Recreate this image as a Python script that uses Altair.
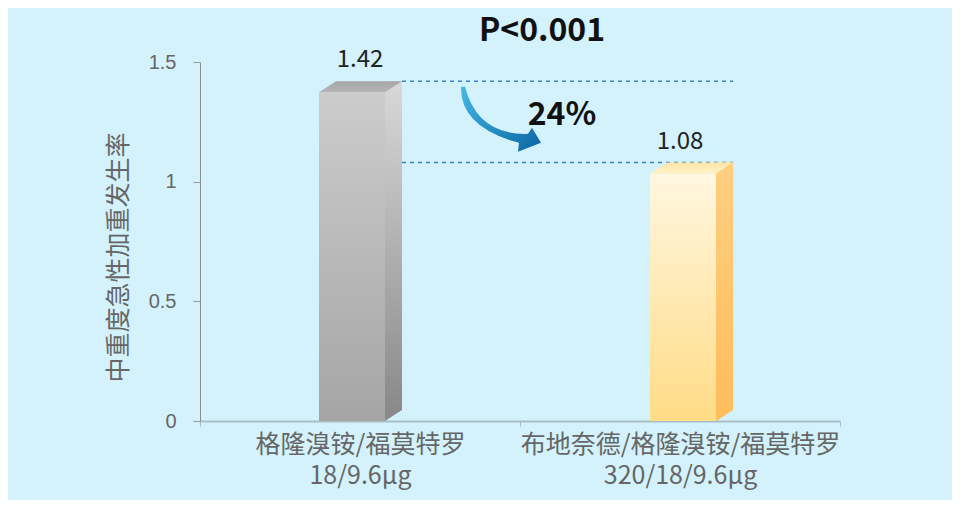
import altair as alt
import pandas as pd

# ---- data ----
names = ["格隆溴铵/福莫特罗", "布地奈德/格隆溴铵/福莫特罗"]
doses = ["18/9.6μg", "320/18/9.6μg"]
values = [1.42, 1.08]
p_label = "P<0.001"
y_title = "中重度急性加重发生率"
y_ticks = [0, 0.5, 1, 1.5]

cats = [f"{n}|{d}" for n, d in zip(names, doses)]
df = pd.DataFrame({"cat": cats, "value": values})
change = round((values[0] - values[1]) / values[0] * 100)
ann = pd.DataFrame({"cat": [cats[0]], "value": [(values[0] + values[1]) / 2],
                    "text": [f"{change}%"]})
ptab = pd.DataFrame({"cat": [cats[0]], "value": [y_ticks[-1]], "text": [p_label]})
rules = pd.DataFrame({"cat": [cats[0]] * 2, "cat2": [cats[1]] * 2, "value": values})

# ---- styles ----
FONT = "Noto Sans CJK SC"
bar_shift = [-8, 3]


def grad(c1, c2):
    return alt.Gradient(gradient="linear", x1=0, y1=0, x2=0, y2=1,
                        stops=[alt.GradientStop(color=c1, offset=0),
                               alt.GradientStop(color=c2, offset=1)])


front_cols = [("#cccccc", "#a5a5a5"), ("#fff7e0", "#ffdc86")]
side_cols = [("#d8d8d8", "#8a8a8a"), ("#ffcf80", "#ffbd5c")]
top_cols = [("#a6a6a6", "#b4b4b4"), ("#ffe6a8", "#fff0c4")]

x_axis = alt.Axis(title=None, labelExpr="split(datum.label, '|')", labelAngle=0,
                  labelFont=FONT, labelFontSize=25, labelColor="#666666",
                  labelLineHeight=31, labelPadding=6, labelLimit=0, tickBand="extent",
                  tickSize=5, tickColor="#a9bec8", domainColor="#a9bec8",
                  domainWidth=2, grid=False)
y_axis = alt.Axis(title=y_title, titleFont=FONT, titleFontSize=25,
                  titleFontWeight="normal", titleColor="#666666",
                  titleX=-82, titleY=195, titleAlign="center", titleBaseline="middle",
                  values=y_ticks, format="~g", labelFont="Liberation Sans",
                  labelFontSize=20, labelColor="#666666", labelPadding=17,
                  tickSize=7, tickColor="#9a9a9a", domainColor="#8c8c8c",
                  grid=False)

x_enc = alt.X("cat:N", sort=cats,
              scale=alt.Scale(domain=cats, paddingInner=0, paddingOuter=0),
              axis=x_axis)
y_enc = alt.Y("value:Q", scale=alt.Scale(domain=[0, 1.5], nice=False), axis=y_axis)

base = alt.Chart(df)
layers = []

# dashed reference lines
layers.append(
    alt.Chart(rules).mark_rule(strokeDash=[4, 4], color="#3f82c4", strokeWidth=1.5,
                               xOffset=42, x2Offset=53)
    .encode(x=x_enc, x2=alt.X2("cat2"), y=y_enc)
)

for i, c in enumerate(cats):
    o = bar_shift[i]
    b = base.transform_filter(alt.datum.cat == c)
    # side face
    layers.append(
        b.mark_bar(width=17, xOffset=o + 41.5, y2Offset=-11, fill=grad(*side_cols[i]))
        .encode(x=x_enc, y=y_enc, y2=alt.datum(0))
    )
    # bottom triangle of side face
    layers.append(
        b.mark_point(shape="M33,-11 L50,-11 L33,0 Z", size=4, filled=True,
                     fill=side_cols[i][1], opacity=1, strokeWidth=0, xOffset=o)
        .encode(x=x_enc, y=alt.datum(0))
    )
    # front face
    layers.append(
        b.mark_bar(width=66, xOffset=o, yOffset=11, fill=grad(*front_cols[i]))
        .encode(x=x_enc, y=y_enc, y2=alt.datum(0))
    )
    # top face
    layers.append(
        b.mark_point(shape="M-33,11 L33,11 L50,0 L-16,0 Z", size=4, filled=True,
                     fill=grad(*top_cols[i]), opacity=1, strokeWidth=0, xOffset=o)
        .encode(x=x_enc, y=y_enc)
    )

# value labels
layers.append(
    base.mark_text(dy=-14, baseline="alphabetic", align="center", font=FONT,
                   fontSize=24, color="#222222")
    .encode(x=x_enc, y=y_enc, text=alt.Text("value:Q", format=".2f"))
)

# arrow
arrow_path = ("M105,-35 Q117.5,13.5 168,12 L172,6 L181,21 L158,30 L159,21 "
              "Q100,5 101,-35 Z")
arrow_grad = alt.Gradient(gradient="linear", x1=0, y1=0, x2=1, y2=1,
                          stops=[alt.GradientStop(color="#45b8e6", offset=0),
                                 alt.GradientStop(color="#0a66a3", offset=1)])
layers.append(
    alt.Chart(ann).mark_point(shape=arrow_path, size=4, filled=True, fill=arrow_grad,
                              opacity=1, strokeWidth=0)
    .encode(x=x_enc, y=y_enc)
)
layers.append(
    alt.Chart(ann).mark_text(dx=202, dy=3, baseline="alphabetic", align="center",
                             font=FONT, fontSize=32, fontWeight="bold", color="#111111")
    .encode(x=x_enc, y=y_enc, text="text:N")
)
# P value label above the plot
layers.append(
    alt.Chart(ptab).mark_text(dx=182, dy=-21, baseline="alphabetic", align="center",
                              font=FONT, fontSize=32, fontWeight="bold", color="#111111")
    .encode(x=x_enc, y=y_enc, text="text:N")
)

chart = alt.layer(*layers).properties(
    width=640, height=359,
    padding={"left": 192, "top": 54, "right": 112, "bottom": 79},
    autosize="none",
    background="#d3f2fb",
).configure_view(strokeWidth=0)

chart.save("out.html", embed_options={"renderer": "svg", "actions": False})
